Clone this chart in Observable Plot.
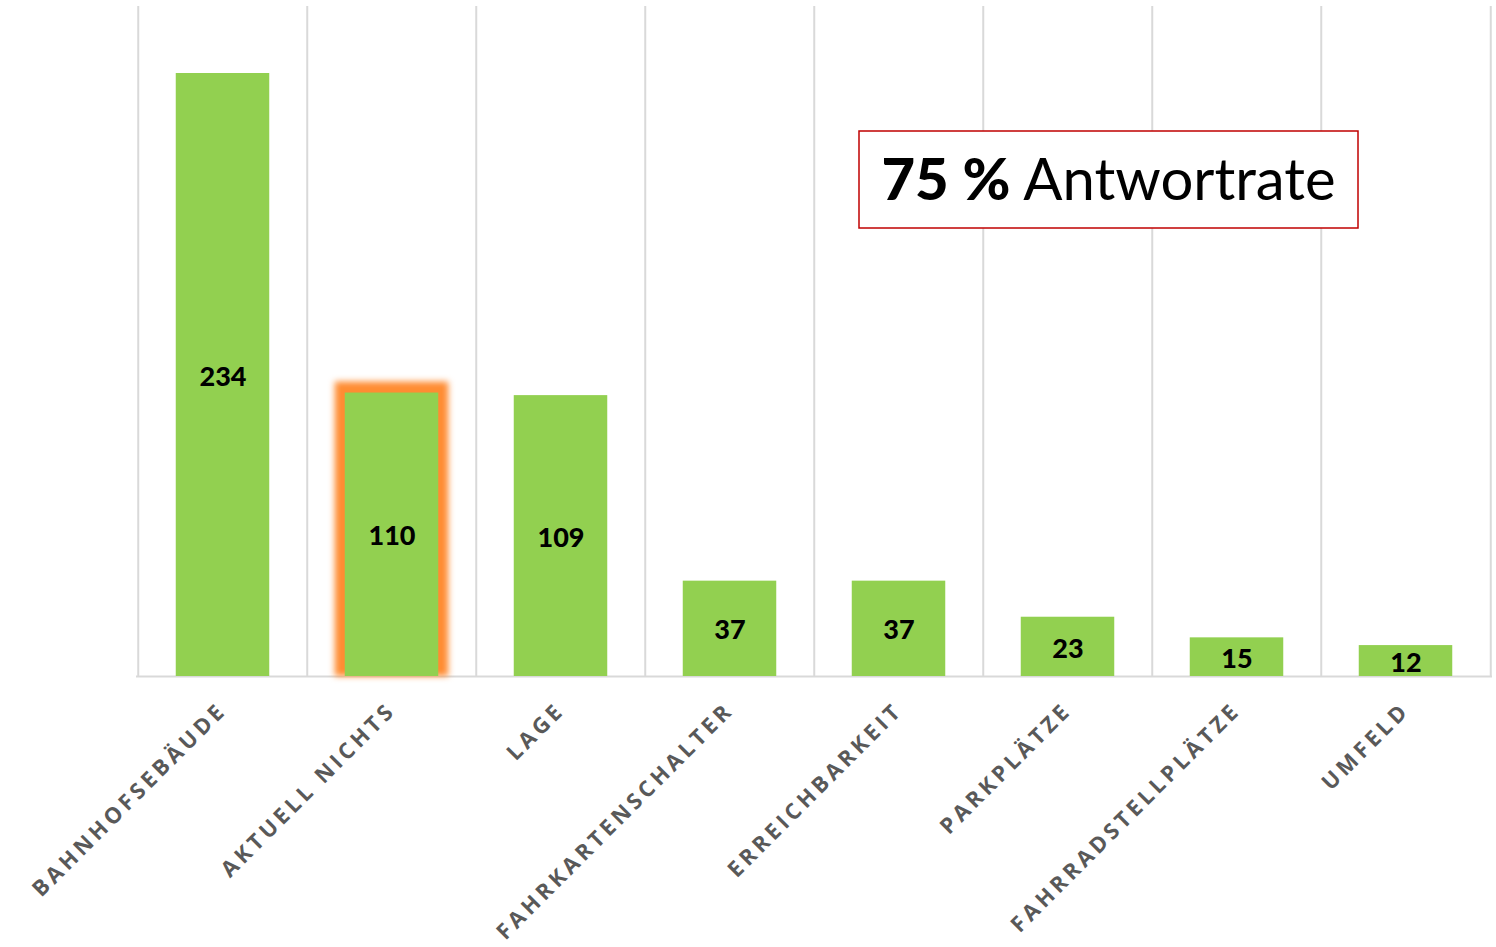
<!DOCTYPE html>
<html>
<head>
<meta charset="utf-8">
<script src="https://cdn.jsdelivr.net/npm/d3@7"></script>
<script src="https://cdn.jsdelivr.net/npm/@observablehq/plot@0.6"></script>
<style>
  html, body { margin: 0; padding: 0; background: #fff; }
  #chart svg { display: block; }
  .glow { filter: blur(3px); }
  g[aria-label="x-axis tick label"] text {
    font-family: "Open Sans", sans-serif;
    font-weight: 700;
    letter-spacing: 3.8px;
  }
</style>
</head>
<body>
<div id="chart"></div>
<script>
const categories = ["BAHNHOFSEBÄUDE", "AKTUELL NICHTS", "LAGE", "FAHRKARTENSCHALTER", "ERREICHBARKEIT", "PARKPLÄTZE", "FAHRRADSTELLPLÄTZE", "UMFELD"];
const counts = [234, 110, 109, 37, 37, 23, 15, 12];
const highlighted = ["AKTUELL NICHTS"];
const annotationBold = "75 %";
const annotationRest = " Antwortrate";

const data = categories.map((c, i) => ({category: c, count: counts[i]}));

const W = 1496, H = 947;
const mL = 136, mR = 4, mT = 6, mB = 271;
const step = (W - mL - mR) / categories.length;
const barInset = (step - 94) / 2;
const glowInset = (step - 114) / 2;

const annotation = (index, scales, values, dims) => {
  const g = d3.create("svg:g");
  const bx = 859, by = 131, bw = 499, bh = 97;
  g.append("rect")
    .attr("x", bx).attr("y", by).attr("width", bw).attr("height", bh)
    .attr("fill", "#fff").attr("stroke", "#C00000").attr("stroke-width", 1.5);
  const t = g.append("text")
    .attr("x", bx + bw / 2).attr("y", by + bh / 2)
    .attr("text-anchor", "middle").attr("dy", "0.36em")
    .attr("font-family", "Lato, 'Open Sans', sans-serif")
    .attr("font-size", 58).attr("fill", "#000");
  t.append("tspan").attr("font-weight", 900).text(annotationBold);
  t.append("tspan").attr("font-weight", 400).text(annotationRest);
  return g.node();
};

const chart = Plot.plot({
  width: W,
  height: H,
  marginLeft: mL,
  marginRight: mR,
  marginTop: mT,
  marginBottom: mB,
  style: {background: "#fff", fontFamily: "'Open Sans', sans-serif"},
  x: {domain: categories, padding: 0, label: null},
  y: {domain: [0, 260], axis: null},
  marks: [
    Plot.ruleX(categories, {x: d => d, dx: -step / 2, stroke: "#d9d9d9", strokeWidth: 2}),
    Plot.ruleX(categories.slice(-1), {x: d => d, dx: step / 2, stroke: "#d9d9d9", strokeWidth: 2}),
    Plot.ruleY([0], {stroke: "#d9d9d9", strokeWidth: 2}),
    Plot.barY(data.filter(d => highlighted.includes(d.category)), {
      x: "category", y: "count", fill: "#FF8C32",
      insetLeft: glowInset, insetRight: glowInset, insetTop: -11, className: "glow"
    }),
    Plot.barY(data, {x: "category", y: "count", fill: "#92D050", insetLeft: barInset, insetRight: barInset}),
    Plot.text(data, {
      x: "category", y: d => d.count / 2, text: d => String(d.count),
      fontSize: 27, fontWeight: 900, fill: "#000", fontFamily: "Lato, sans-serif", dy: 2
    }),
    Plot.axisX({
      tickRotate: -45, tickSize: 0, tickPadding: 30, fontSize: 22, fill: "#595959", label: null
    }),
    annotation
  ]
});
document.getElementById("chart").appendChild(chart);
</script>
</body>
</html>
